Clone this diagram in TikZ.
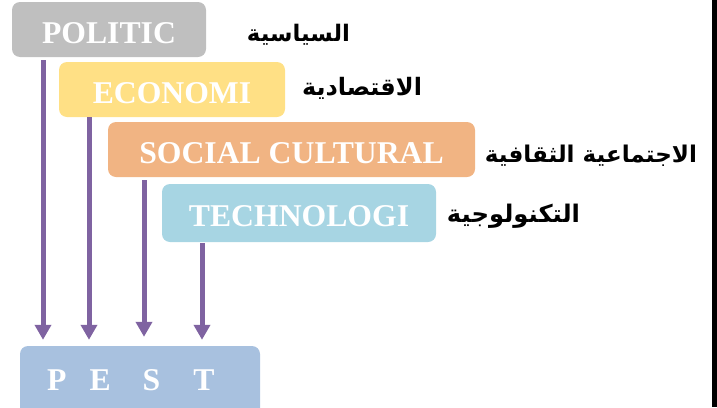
\documentclass[tikz,border=0pt]{standalone}
\usepackage{fontspec}
\usepackage{graphicx}
\setmainfont{Liberation Serif}
\newfontfamily\arabicfont[Script=Arabic]{DejaVu Sans}
\TeXXeTstate=1
\usetikzlibrary{arrows.meta}
\definecolor{polgray}{HTML}{BFBFBF}
\definecolor{ecoyellow}{HTML}{FFE085}
\definecolor{socorange}{HTML}{F1B483}
\definecolor{techblue}{HTML}{A7D5E3}
\definecolor{pestblue}{HTML}{A8C1DF}
\definecolor{arrowpurple}{HTML}{7F63A1}
\newcommand{\artxt}[2]{\resizebox{#1pt}{!}{\arabicfont\bfseries #2}}
\begin{document}
\begin{tikzpicture}[x=1pt,y=-1pt,
  box/.style={rounded corners=8pt, inner sep=0pt, text=white,
    font=\fontsize{31.7}{32}\selectfont\bfseries, text height=27pt, text depth=0pt},
  artext/.style={inner sep=0pt},
  flow/.style={draw=arrowpurple, line width=5pt, -{Triangle[width=16pt,length=15pt]}}
]
\useasboundingbox (0,0) rectangle (717,407);
\fill[black] (712,0) rectangle (717,407);

\node[box, fill=polgray, minimum width=194pt, minimum height=55pt] (politic) at (109,29.5) {POLITIC};
\node[box, fill=ecoyellow, minimum width=226pt, minimum height=55pt] (economi) at (172,89.5) {ECONOMI};
\node[box, fill=socorange, minimum width=367pt, minimum height=55pt] (social) at (291.5,149.5) {SOCIAL CULTURAL};
\node[box, fill=techblue, minimum width=274pt, minimum height=58pt] (techno) at (299,213) {TECHNOLOGI};
\node[box, fill=pestblue, minimum width=240pt, minimum height=70pt] (pest) at (140,381) {};
\node[box, anchor=base west, text height=, text depth=] (pestlabel) at (47,390) {P\hspace{23pt}E\hspace{32pt}S\hspace{33pt}T};

\node[artext] (ar1) at (298.5,35) {\artxt{103}{\beginR السياسية\endR}};
\node[artext] (ar2) at (362,88) {\artxt{120}{\beginR الاقتصادية\endR}};
\node[artext] (ar3) at (591,156) {\artxt{212}{\beginR الاجتماعية الثقافية\endR}};
\node[artext] (ar4) at (513.5,216) {\artxt{133}{\beginR التكنولوجية\endR}};

\coordinate (x1) at (43,0);
\coordinate (x2) at (89,0);
\coordinate (x3) at (144,0);
\coordinate (x4) at (202,0);
\draw[flow, shorten <=3pt, shorten >=6pt] (politic.south -| x1) -- (pest.north -| x1);
\draw[flow, shorten >=6pt] (economi.south -| x2) -- (pest.north -| x2);
\draw[flow, shorten <=3pt, shorten >=9pt] (social.south -| x3) -- (pest.north -| x3);
\draw[flow, shorten <=1pt, shorten >=6pt] (techno.south -| x4) -- (pest.north -| x4);
\end{tikzpicture}
\end{document}
